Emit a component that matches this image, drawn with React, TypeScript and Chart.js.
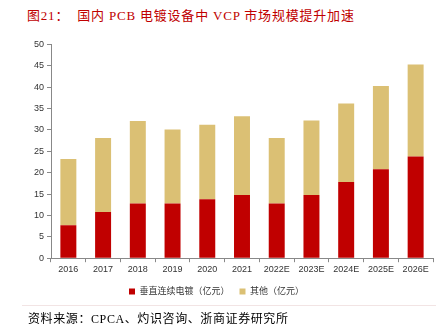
import React, { useEffect, useRef } from "react";
import { Chart, registerables } from "chart.js";

Chart.register(...registerables);

const categories = ["2016", "2017", "2018", "2019", "2020", "2021", "2022E", "2023E", "2024E", "2025E", "2026E"];
const vcpValues = [7.7, 10.8, 12.8, 12.8, 13.8, 14.8, 12.8, 14.8, 17.8, 20.8, 23.8];
const otherValues = [15.5, 17.3, 19.3, 17.3, 17.4, 18.4, 15.3, 17.4, 18.4, 19.5, 21.5];
const seriesNames = ["垂直连续电镀（亿元）", "其他（亿元）"];
const yTicks = [0, 5, 10, 15, 20, 25, 30, 35, 40, 45, 50];

const titleText = "图21：  国内 PCB 电镀设备中 VCP 市场规模提升加速";
const sourceText = "资料来源：CPCA、灼识咨询、浙商证券研究所";

export default function App() {
  const ref = useRef<HTMLCanvasElement | null>(null);

  useEffect(() => {
    if (!ref.current) return;
    const tickFont = { family: "'Liberation Sans', Arial, 'Noto Sans CJK SC', sans-serif", size: 9 };
    const chart = new Chart(ref.current, {
      type: "bar",
      data: {
        labels: categories,
        datasets: [
          { label: seriesNames[0], data: vcpValues, backgroundColor: "#C00000", borderWidth: 0, barPercentage: 0.46, categoryPercentage: 1 },
          { label: seriesNames[1], data: otherValues, backgroundColor: "#DBC074", borderWidth: 0, barPercentage: 0.46, categoryPercentage: 1 },
        ],
      },
      options: {
        animation: false,
        responsive: false,
        maintainAspectRatio: false,
        layout: { padding: { left: 0, right: 13, top: 8, bottom: 0 } },
        plugins: {
          tooltip: { enabled: false },
          legend: {
            position: "bottom",
            labels: {
              boxWidth: 6,
              boxHeight: 6,
              padding: 10,
              color: "#333",
              font: tickFont,
            },
          },
        },
        scales: {
          x: {
            stacked: true,
            grid: { display: true, offset: true, drawOnChartArea: false, drawTicks: true, tickLength: 4, color: "#888" },
            border: { color: "#888" },
            ticks: { color: "#333", font: tickFont, maxRotation: 0, autoSkip: false, padding: 2 },
          },
          y: {
            stacked: true,
            min: 0,
            max: 50,
            afterFit: (s: any) => { s.width = 51; },
            afterBuildTicks: (s: any) => { s.ticks = yTicks.map((v) => ({ value: v })); },
            grid: { display: true, drawOnChartArea: false, drawTicks: true, tickLength: 4, color: "#888" },
            border: { color: "#888" },
            ticks: { color: "#333", font: tickFont, padding: 3 },
          },
        },
      },
    });
    return () => chart.destroy();
  }, []);

  return (
    <div style={{ position: "fixed", left: 0, top: 0, width: 446, height: 332, background: "#fff", overflow: "hidden" }}>
      <div
        style={{
          position: "absolute",
          left: 27,
          top: 8,
          fontFamily: "'Liberation Serif', 'Times New Roman', 'Noto Sans CJK SC', serif",
          fontSize: 13,
          letterSpacing: "0.8px",
          color: "#C00000",
          whiteSpace: "pre",
          lineHeight: "16px",
        }}
      >
        {titleText}
      </div>
      <canvas ref={ref} width={446} height={270} style={{ position: "absolute", left: 0, top: 36, width: 446, height: 270 }} />
      <div style={{ position: "absolute", left: 22, right: 10, top: 305, height: 1, background: "#F2E4E4" }} />
      <div
        style={{
          position: "absolute",
          left: 28,
          top: 311,
          fontFamily: "'Liberation Serif', 'Times New Roman', 'Noto Sans CJK SC', serif",
          fontSize: 12,
          letterSpacing: "0.6px",
          color: "#000",
          whiteSpace: "pre",
          lineHeight: "16px",
        }}
      >
        {sourceText}
      </div>
    </div>
  );
}
